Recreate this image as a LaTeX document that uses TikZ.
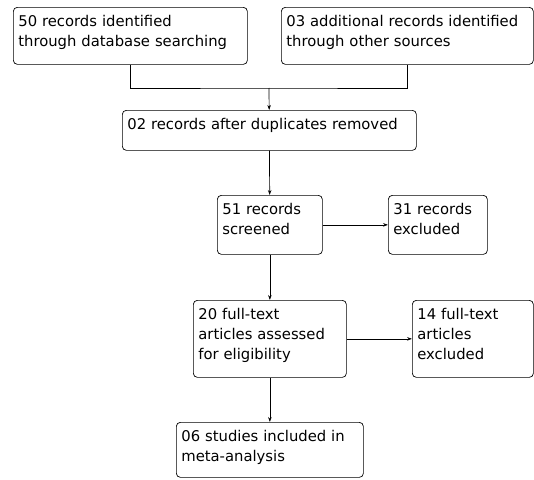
\documentclass[tikz,border=0pt]{standalone}
\usepackage{fontspec}
\setmainfont{DejaVu Sans}
\usetikzlibrary{arrows.meta}

\begin{document}
\begin{tikzpicture}[x=1pt, y=-1pt, line width=0.7pt,
        box/.style={draw, rounded corners=4pt, anchor=north west, align=left, inner xsep=5pt, inner ysep=0pt, text height=19pt, font=\fontsize{14.8}{20}\selectfont},
        arr/.style={-{Stealth[length=5pt, width=3.5pt]}}]
        \useasboundingbox (0, 0) rectangle (534, 479);
        \node[box, text width=224pt, text depth=38pt](db)at(13,7){50 records identified\\through database searching};
        \node[box, text width=242pt, text depth=38pt](other)at(281,7){03 additional records identified\\through other sources};
        \node[box, text width=284pt, text depth=21pt](dup)at(122,110){02 records after duplicates removed};
        \node[box, text width=95pt, text depth=40pt](screen)at(217,195){51 records\\screened};
        \node[box, text width=89pt, text depth=40pt](excl)at(388,195){31 records\\excluded};
        \node[box, text width=143pt, text depth=58pt](full)at(193,300){20 full-text\\articles assessed\\for eligibility};
        \node[box, text width=111pt, text depth=58pt](fullexcl)at(412,300){14 full-text\\articles\\excluded};
        \node[box, text width=177pt, text depth=36pt](incl)at(176,422){06 studies included in\\meta-analysis};
        \coordinate (join) at (269, 88);
        \draw (db.south) |- (join) -| (other.south);
        \draw[arr] (join) -- (dup);
        \draw[arr] (dup) -- (screen);
        \draw[arr] (screen) -- (excl);
        \draw[arr] (screen) -- (full);
        \draw[arr] (full) -- (fullexcl);
        \draw[arr] (full) -- (incl);
    \end{tikzpicture}
\end{document}
